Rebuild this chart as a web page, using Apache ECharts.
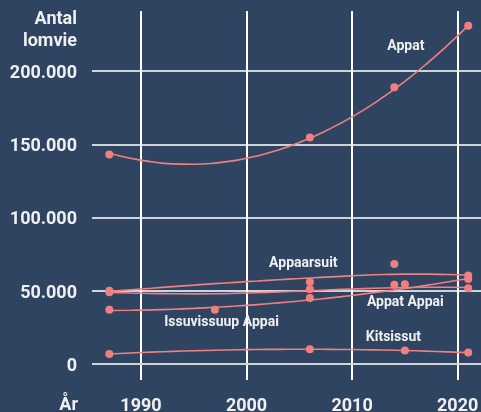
<!DOCTYPE html>
<html><head><meta charset="utf-8">
<script src="https://cdn.jsdelivr.net/npm/echarts@6/dist/echarts.min.js"></script>
<style>html,body{margin:0;padding:0;background:#2e4461}#c{width:481px;height:412px}</style>
</head><body><div id="c"></div>
<script>
// ---- data ----
const xTicks = [1990, 2000, 2010, 2020];
const yTicks = [0, 50000, 100000, 150000, 200000];
const xTitle = 'År';
const yTitle = 'Antal\nlomvie';
const seriesNames = ['Appat', 'Appaarsuit', 'Appat Appai', 'Issuvissuup Appai', 'Kitsissut'];

// observed counts (points)
const appatYears = [1987, 2006, 2014, 2021];
const appatVals = [143000, 154600, 189000, 231000];
const appaarsuitYears = [1987, 2006, 2014, 2021];
const appaarsuitVals = [50000, 56000, 68300, 60300];
const appatAppaiYears = [1987, 2006, 2014, 2015, 2021];
const appatAppaiVals = [49000, 51000, 54000, 54400, 51700];
const issuvissuupYears = [1987, 1997, 2006, 2021];
const issuvissuupVals = [37000, 37000, 45000, 58000];
const kitsissutYears = [1987, 2006, 2015, 2021];
const kitsissutVals = [6800, 10000, 9100, 7700];

// trend curves
const trendYears = [1987, 1989, 1991, 1993, 1995, 1997, 1999, 2001, 2003, 2005, 2007, 2009, 2011, 2013, 2015, 2017, 2019, 2021];
const appatTrend = [143900, 140400, 138000, 136600, 136300, 137100, 139000, 142000, 146000, 151200, 157400, 164700, 173000, 182500, 193000, 204600, 217300, 231000];
const appaarsuitTrend = [49500, 50600, 51700, 52800, 53800, 54800, 55700, 56600, 57500, 58300, 59100, 59800, 60500, 61000, 61300, 61300, 61000, 60500];
const appatAppaiTrend = [48800, 48400, 48100, 47900, 47800, 47900, 48200, 48600, 49100, 49700, 50300, 50900, 51400, 51800, 52100, 52300, 52300, 52200];
const issuvissuupTrend = [36450, 36600, 36900, 37340, 37910, 38640, 39490, 40500, 41640, 42920, 44350, 45920, 47630, 49480, 51460, 53600, 55870, 58280];
const kitsissutTrend = [6800, 7460, 8040, 8550, 8980, 9330, 9610, 9810, 9940, 9990, 9970, 9870, 9700, 9450, 9120, 8720, 8240, 7690];

// label anchors [year, value]
const labelAnchors = [[2015.09, 216800], [2005.38, 68500], [2015.04, 42000], [1997.63, 28600], [2013.91, 18200]];

// ---- chart ----
const pointsYears = [appatYears, appaarsuitYears, appatAppaiYears, issuvissuupYears, kitsissutYears];
const pointsVals = [appatVals, appaarsuitVals, appatAppaiVals, issuvissuupVals, kitsissutVals];
const trends = [appatTrend, appaarsuitTrend, appatAppaiTrend, issuvissuupTrend, kitsissutTrend];

const RED = '#f08080';
const TXT = '#f0f0f0';
const GRIDH = '#cfd4da';
const FONT = 'Roboto';
const fmt = v => String(v).replace(/\B(?=(\d{3})+(?!\d))/g, '.');

const series = [];
seriesNames.forEach((name, i) => {
  const s = {
    name: name,
    type: 'line',
    smooth: true,
    showSymbol: false,
    silent: true,
    lineStyle: { color: RED, width: 1.6 },
    data: trendYears.map((y, k) => [y, trends[i][k]]),
    markPoint: {
      symbol: 'circle', symbolSize: 0,
      label: { show: true, position: 'inside', formatter: '{b}', color: TXT,
               fontFamily: FONT, fontSize: 14, fontWeight: 'bold' },
      data: [{ name: name, coord: labelAnchors[i] }]
    },
    z: 2
  };
  if (i === 0) {
    s.markLine = {
      silent: true, symbol: 'none', label: { show: false }, z: 1,
      lineStyle: { color: GRIDH, width: 2, type: 'solid' },
      data: [{ yAxis: yTicks[0] }]
    };
  }
  series.push(s);
  series.push({
    name: name + ' pts',
    type: 'scatter',
    symbolSize: 8,
    itemStyle: { color: RED, opacity: 1 },
    data: pointsYears[i].map((y, k) => [y, pointsVals[i][k]]),
    z: 3
  });
});

const chart = echarts.init(document.getElementById('c'), null, { renderer: 'canvas' });
chart.setOption({
  backgroundColor: '#2e4461',
  animation: false,
  grid: { left: 92, right: 0, top: 11, bottom: 32, containLabel: false, outerBoundsMode: 'none' },
  graphic: [{
    type: 'text', x: 78, y: 405, silent: true,
    style: { text: xTitle, fill: TXT, font: 'bold 18px Roboto', align: 'right', verticalAlign: 'middle' }
  }],
  xAxis: {
    type: 'value', min: 1985.36, max: 2022.21,
    axisLine: { show: false },
    axisTick: { show: false, customValues: xTicks },
    axisLabel: { customValues: xTicks, color: TXT, fontFamily: FONT, fontSize: 18, fontWeight: 'bold',
                 margin: 17, formatter: v => String(v) },
    splitLine: { show: true, lineStyle: { color: '#ffffff', width: 2 } }
  },
  yAxis: {
    type: 'value', min: -11000, max: 241000,
    name: yTitle, nameLocation: 'end', nameGap: 3, nameMoveOverlap: false,
    nameTextStyle: { color: TXT, fontFamily: FONT, fontSize: 18, fontWeight: 'bold',
                     align: 'right', verticalAlign: 'top', lineHeight: 22, padding: [0, 15, 0, 0] },
    axisLine: { show: false },
    axisTick: { show: false, customValues: yTicks },
    axisLabel: { customValues: yTicks, margin: 15, formatter: v => '{a|' + fmt(v) + '}',
                 rich: { a: { color: TXT, fontFamily: FONT, fontSize: 18, fontWeight: 'bold', padding: [5, 0, 0, 0] } } },
    splitLine: { show: true, showMinLine: true, lineStyle: { color: GRIDH, width: 2 } }
  },
  series: series
});
</script>
</body></html>
